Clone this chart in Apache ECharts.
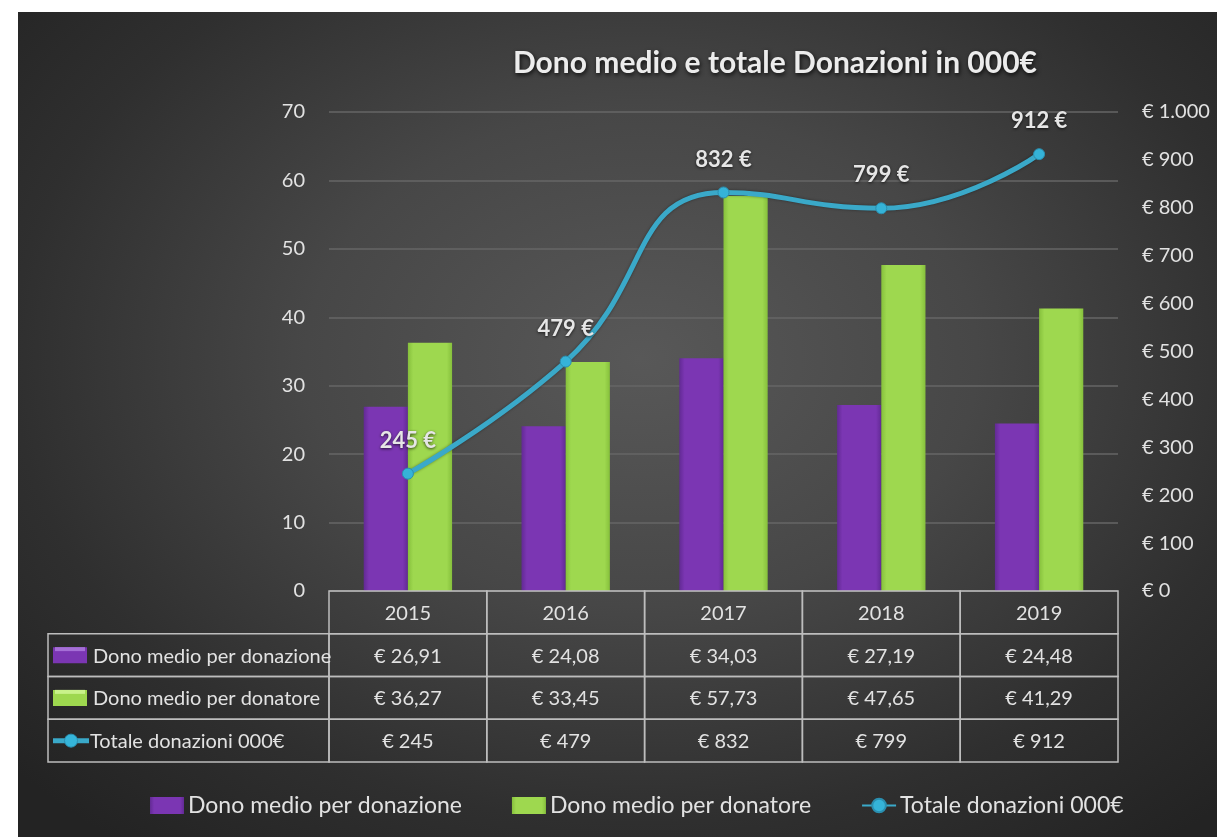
<!DOCTYPE html>
<html>
<head>
<meta charset="utf-8">
<script src="https://cdn.jsdelivr.net/npm/echarts@6/dist/echarts.min.js"></script>
<style>
  html, body { margin: 0; padding: 0; background: #ffffff; }
  #bg { position: absolute; left: 18px; top: 12px; width: 1199px; height: 825px;
        background: radial-gradient(ellipse 70% 75% at 52% 42%, #585858 0%, #474747 40%, #2f2f2f 75%, #232323 100%); }
  #chart { position: absolute; left: 0; top: 0; width: 1217px; height: 837px; }
</style>
</head>
<body>
<div id="bg"></div>
<div id="chart"></div>
<script>
// ---- data ----
const years = ['2015', '2016', '2017', '2018', '2019'];
const donoPerDonazione = [26.91, 24.08, 34.03, 27.19, 24.48];
const donoPerDonatore = [36.27, 33.45, 57.73, 47.65, 41.29];
const totaleDonazioni = [245, 479, 832, 799, 912];
const seriesNames = ['Dono medio per donazione', 'Dono medio per donatore', 'Totale donazioni 000€'];
const titleText = 'Dono medio e totale Donazioni in 000€';

const FONT = 'Lato, "Open Sans", sans-serif';
const TXT = '#e2e2e2';
const PURPLE = '#7b36b3';
const GREEN = '#9ed84f';
const BLUE = '#3aa9c9';

function fmtDec(v) { return '€ ' + v.toFixed(2).replace('.', ','); }
function fmtInt(v) { return '€ ' + String(v).replace(/\B(?=(\d{3})+(?!\d))/g, '.'); }

const rowValues = [null, donoPerDonazione, donoPerDonatore, totaleDonazioni];
const rowFmt = [null, fmtDec, fmtDec, fmtInt];

// table cells: [col, row]
const tableCells = [];
for (let c = 0; c < years.length; c++) for (let r = 0; r < 4; r++) tableCells.push([c, r]);

function barGrad(base, dark) {
  return new echarts.graphic.LinearGradient(0, 0, 1, 0, [
    { offset: 0, color: dark }, { offset: 0.12, color: base },
    { offset: 0.88, color: base }, { offset: 1, color: dark }
  ]);
}

function icon(row, x, y) {
  if (row === 1 || row === 2) {
    const base = row === 1 ? PURPLE : GREEN;
    const light = row === 1 ? '#a56fd6' : '#c9f28a';
    return [
      { type: 'rect', shape: { x: x, y: y - 8, width: 34, height: 16 }, style: { fill: base } },
      { type: 'rect', shape: { x: x + 2, y: y - 8, width: 30, height: 4 }, style: { fill: light } }
    ];
  }
  return [
    { type: 'line', shape: { x1: x, y1: y, x2: x + 36, y2: y }, style: { stroke: BLUE, lineWidth: 5 } },
    { type: 'circle', shape: { cx: x + 18, cy: y, r: 6.5 }, style: { fill: '#35b5da', stroke: '#2a8fb0', lineWidth: 1 } }
  ];
}

function renderCell(params, api) {
  const col = api.value(0), row = api.value(1);
  const c = api.coord([col, row]);
  const s = api.size([1, 1]);
  const x0 = c[0] - s[0] / 2, y0 = c[1] - s[1] / 2;
  const text = row === 0 ? years[col] : rowFmt[row](rowValues[row][col]);
  const children = [
    { type: 'rect', shape: { x: x0, y: y0, width: s[0], height: s[1] },
      style: { fill: 'transparent', stroke: '#bdbdbd', lineWidth: 1.5 } },
    { type: 'text', style: { x: c[0], y: c[1] + 1, text: text, fill: TXT, font: '20px ' + FONT,
      textAlign: 'center', textVerticalAlign: 'middle' } }
  ];
  if (col === 0 && row > 0) {
    const lw = 281;
    children.push({ type: 'rect', shape: { x: x0 - lw, y: y0, width: lw, height: s[1] },
      style: { fill: 'transparent', stroke: '#bdbdbd', lineWidth: 1.5 } });
    children.push.apply(children, icon(row, x0 - lw + 5, c[1]));
    children.push({ type: 'text', style: { x: x0 - lw + (row === 3 ? 42 : 45), y: c[1] + 1,
      text: seriesNames[row - 1], fill: TXT, font: '20px ' + FONT, textAlign: 'left', textVerticalAlign: 'middle' } });
  }
  return { type: 'group', children: children };
}

const chart = echarts.init(document.getElementById('chart'), null, { renderer: 'canvas' });
chart.setOption({
  backgroundColor: 'transparent',
  animation: false,
  title: {
    text: titleText, left: 508, top: 43,
    textStyle: { color: '#ececec', fontFamily: FONT, fontSize: 30, fontWeight: 'bold',
      textShadowColor: 'rgba(0,0,0,0.8)', textShadowBlur: 4, textShadowOffsetX: 1, textShadowOffsetY: 2 }
  },
  legend: {
    data: [
      { name: seriesNames[0], icon: 'rect' },
      { name: seriesNames[1], icon: 'rect' },
      { name: seriesNames[2] }
    ],
    left: 145, top: 789, itemWidth: 34, itemHeight: 17, itemGap: 50,
    textStyle: { color: TXT, fontFamily: FONT, fontSize: 23, padding: [0, 0, 0, -1] }
  },
  grid: [
    { left: 329, right: 99, top: 112, height: 479, containLabel: false },
    { left: 329, right: 99, top: 591, height: 171, containLabel: false }
  ],
  xAxis: [
    { type: 'category', data: years, gridIndex: 0, axisLine: { show: false }, axisTick: { show: false },
      axisLabel: { show: false } },
    { type: 'category', data: years, gridIndex: 1, show: false }
  ],
  yAxis: [
    { type: 'value', gridIndex: 0, min: 0, max: 70, interval: 10,
      axisLine: { show: false }, axisTick: { show: false },
      axisLabel: { color: TXT, fontFamily: FONT, fontSize: 20, margin: 24 },
      splitLine: { lineStyle: { color: '#666666', width: 1.5 } } },
    { type: 'value', gridIndex: 0, min: 0, max: 1000, interval: 100, position: 'right',
      axisLine: { show: false }, axisTick: { show: false },
      axisLabel: { color: TXT, fontFamily: FONT, fontSize: 20, margin: 24, formatter: fmtInt },
      splitLine: { show: false } },
    { type: 'category', data: ['anno', 'r1', 'r2', 'r3'], inverse: true, gridIndex: 1, show: false }
  ],
  series: [
    { name: seriesNames[0], type: 'bar', xAxisIndex: 0, yAxisIndex: 0, data: donoPerDonazione,
      barGap: '0%', barCategoryGap: '44%',
      itemStyle: { color: barGrad(PURPLE, '#622a94') } },
    { name: seriesNames[1], type: 'bar', xAxisIndex: 0, yAxisIndex: 0, data: donoPerDonatore,
      barGap: '0%', barCategoryGap: '44%',
      itemStyle: { color: barGrad(GREEN, '#86c03c') } },
    { name: seriesNames[2], type: 'line', xAxisIndex: 0, yAxisIndex: 1, data: totaleDonazioni,
      smooth: 0.5, z: 5, symbol: 'circle', symbolSize: 11,
      lineStyle: { color: BLUE, width: 5, shadowColor: 'rgba(0,0,0,0.4)', shadowBlur: 3 },
      itemStyle: { color: '#35b3d8', borderColor: '#2a8fb0', borderWidth: 1 },
      label: { show: true, position: 'top', distance: 16, formatter: '{c} €',
        color: '#e6e6e6', fontFamily: FONT, fontSize: 22, fontWeight: 'bold',
        textShadowColor: 'rgba(0,0,0,0.7)', textShadowBlur: 3, textShadowOffsetY: 1 } },
    { name: 'tabella', type: 'custom', xAxisIndex: 1, yAxisIndex: 2, data: tableCells,
      renderItem: renderCell, silent: true, z: 3 }
  ]
});
</script>
</body>
</html>
